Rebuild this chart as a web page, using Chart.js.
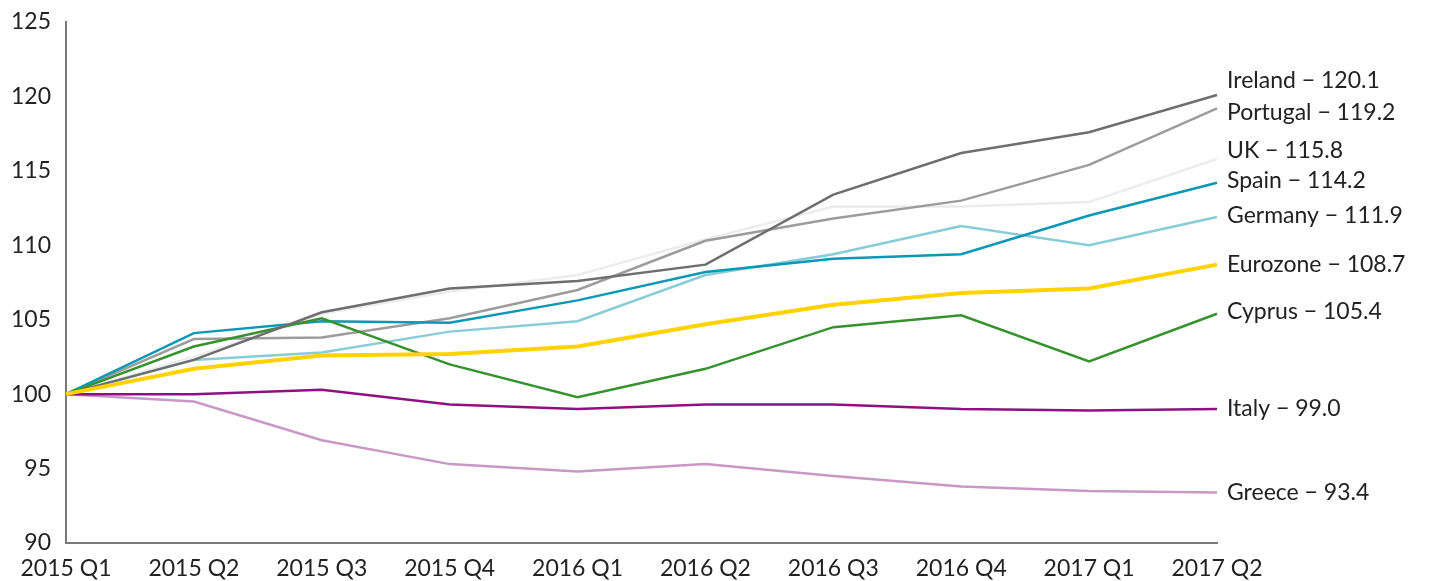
<!DOCTYPE html>
<html>
<head>
<meta charset="utf-8">
<script src="https://cdn.jsdelivr.net/npm/chart.js@4"></script>
<style>
  html, body { margin: 0; padding: 0; background: #fff; }
  #wrap { width: 1429px; height: 581px; position: relative; }
</style>
</head>
<body>
<div id="wrap"><canvas id="gdpChart"></canvas></div>
<script>
// Real GDP index, 2015 Q1 = 100
const quarters = ['2015 Q1', '2015 Q2', '2015 Q3', '2015 Q4', '2016 Q1', '2016 Q2', '2016 Q3', '2016 Q4', '2017 Q1', '2017 Q2'];
const yTicks = [90, 95, 100, 105, 110, 115, 120, 125];

const ireland  = [100, 102.3, 105.5, 107.1, 107.6, 108.7, 113.4, 116.2, 117.6, 120.1];
const portugal = [100, 103.7, 103.8, 105.1, 107.0, 110.3, 111.8, 113.0, 115.4, 119.2];
const uk       = [100, 102.5, 105.4, 106.9, 108.0, 110.4, 112.6, 112.6, 112.9, 115.8];
const spain    = [100, 104.1, 104.9, 104.8, 106.3, 108.2, 109.1, 109.4, 112.0, 114.2];
const germany  = [100, 102.3, 102.8, 104.2, 104.9, 108.0, 109.4, 111.3, 110.0, 111.9];
const eurozone = [100, 101.7, 102.6, 102.7, 103.2, 104.7, 106.0, 106.8, 107.1, 108.7];
const cyprus   = [100, 103.2, 105.1, 102.0, 99.8, 101.7, 104.5, 105.3, 102.2, 105.4];
const italy    = [100, 100.0, 100.3, 99.3, 99.0, 99.3, 99.3, 99.0, 98.9, 99.0];
const greece   = [100, 99.5, 96.9, 95.3, 94.8, 95.3, 94.5, 93.8, 93.5, 93.4];

const FONT = 'Lato, "Noto Sans", sans-serif';

// nudge end labels up/down so they don't collide
const labelNudge = { Ireland: -14, Portugal: 4, UK: -8, Spain: -2, Germany: -1, Eurozone: 0, Cyprus: -2, Italy: 0, Greece: 0 };

const endLabels = {
    id: 'endLabels',
    afterDatasetsDraw(chart) {
        const ctx = chart.ctx;
        ctx.save();
        ctx.font = '23px ' + FONT;
        ctx.fillStyle = '#222222';
        ctx.textAlign = 'left';
        ctx.textBaseline = 'middle';
        chart.data.datasets.forEach((ds, i) => {
            const pts = chart.getDatasetMeta(i).data;
            const last = pts[pts.length - 1];
            const val = ds.data[ds.data.length - 1];
            const txt = ds.label + ' \u2212 ' + val.toFixed(1);
            ctx.fillText(txt, last.x + 10, last.y + (labelNudge[ds.label] || 0));
        });
        ctx.restore();
    }
};

function line(label, data, color, width) {
    return {
        label: label,
        data: data,
        borderColor: color,
        backgroundColor: color,
        borderWidth: width || 2.5,
        pointRadius: 0,
        tension: 0,
        fill: false
    };
}

new Chart(document.getElementById('gdpChart'), {
    type: 'line',
    data: {
        labels: quarters,
        datasets: [
            line('Eurozone', eurozone, '#ffd200', 4),
            line('Ireland', ireland, '#6e6e6e'),
            line('Cyprus', cyprus, '#35922e'),
            line('Spain', spain, '#0c97b5'),
            line('Portugal', portugal, '#9c9c9c'),
            line('Germany', germany, '#88ccd7'),
            line('Italy', italy, '#8f1181'),
            line('Greece', greece, '#c998c6'),
            line('UK', uk, '#ececec')
        ]
    },
    options: {
        responsive: true,
        maintainAspectRatio: false,
        animation: false,
        layout: { padding: { top: 22, right: 212, left: 0, bottom: 0 } },
        plugins: {
            legend: { display: false },
            tooltip: { enabled: false }
        },
        scales: {
            x: {
                offset: false,
                grid: { display: false, drawTicks: false },
                border: { display: true, color: '#7a7a7a', width: 2 },
                ticks: {
                    color: '#222222',
                    font: { family: FONT, size: 23 },
                    maxRotation: 0,
                    autoSkip: false,
                    padding: 12
                },
                afterFit: (scale) => { scale.height = 38; scale.paddingLeft = 0; scale.paddingRight = 0; }
            },
            y: {
                min: 90,
                max: 125,
                afterBuildTicks: (scale) => { scale.ticks = yTicks.map(v => ({ value: v })); },
                grid: { display: false, drawTicks: false },
                border: { display: true, color: '#7a7a7a', width: 2 },
                ticks: {
                    color: '#222222',
                    font: { family: FONT, size: 23 },
                    padding: 15
                },
                afterFit: (scale) => { scale.width = 66; scale.paddingTop = 0; scale.paddingBottom = 0; }
            }
        }
    },
    plugins: [endLabels]
});
</script>
</body>
</html>
